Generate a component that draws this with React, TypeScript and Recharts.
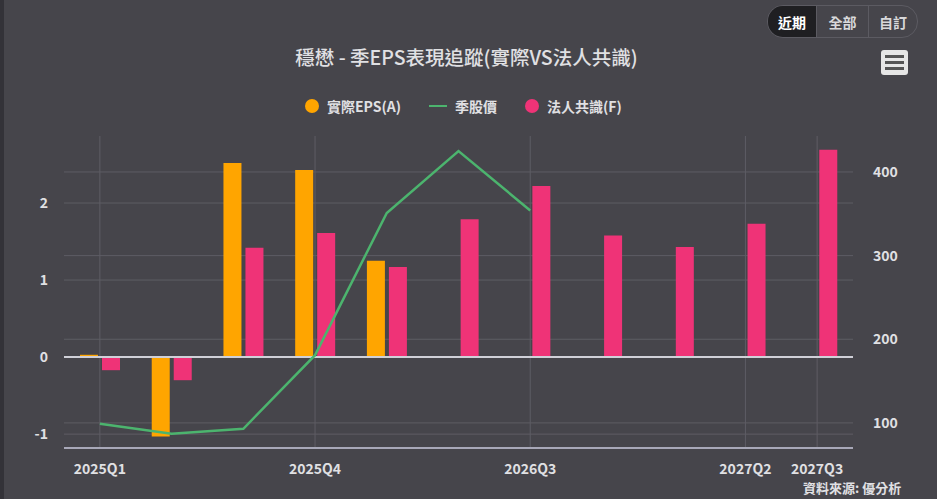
import React from "react";
import {
  ComposedChart,
  Bar,
  Line,
  XAxis,
  YAxis,
  CartesianGrid,
  ReferenceLine,
} from "recharts";

const quarters = [
  "2025Q1", "2025Q2", "2025Q3", "2025Q4",
  "2026Q1", "2026Q2", "2026Q3", "2026Q4",
  "2027Q1", "2027Q2", "2027Q3",
];
const actualEps = [0.03, -1.03, 2.52, 2.43, 1.25, null, null, null, null, null, null];
const consensusEps = [-0.17, -0.3, 1.42, 1.61, 1.17, 1.79, 2.22, 1.58, 1.43, 1.73, 2.69];
const quarterPrice = [99, 87, 93, 181, 351, 425, 354, null, null, null, null];
const xTicks = ["2025Q1", "2025Q4", "2026Q3", "2027Q2", "2027Q3"];
const leftTicks = [-1, 0, 1, 2];
const rightTicks = [100, 200, 300, 400];

const data = quarters.map((q, i) => ({
  q,
  actual: actualEps[i],
  consensus: consensusEps[i],
  price: quarterPrice[i],
}));

const BG = "#46454b";
const TEXT = "#e0e0e3";
const ORANGE = "#ffa500";
const PINK = "#ef3377";
const GREEN = "#4cb46e";
const FONT = '"Noto Sans CJK TC", "Noto Sans", sans-serif';

function Legend() {
  const item = { display: "flex", alignItems: "center", gap: 8 } as const;
  const dot = (c: string) => (
    <span style={{ width: 14, height: 14, borderRadius: "50%", background: c, display: "inline-block" }} />
  );
  return (
    <div
      style={{
        position: "absolute",
        top: 96,
        left: 305,
        display: "flex",
        gap: 28,
        fontSize: 14,
        fontWeight: 700,
        color: TEXT,
      }}
    >
      <div style={item}>{dot(ORANGE)}<span>實際EPS(A)</span></div>
      <div style={item}>
        <span style={{ width: 18, height: 2, background: GREEN, display: "inline-block" }} />
        <span>季股價</span>
      </div>
      <div style={item}>{dot(PINK)}<span>法人共識(F)</span></div>
    </div>
  );
}

function Buttons() {
  const btn = (label: string, active: boolean, extra: React.CSSProperties = {}) => (
    <div
      style={{
        width: 48,
        height: 31,
        display: "flex",
        alignItems: "center",
        justifyContent: "center",
        background: active ? "#1f1f22" : "transparent",
        color: active ? "#ffffff" : "#d8d8da",
        fontWeight: 700,
        fontSize: 14,
        ...extra,
      }}
    >
      {label}
    </div>
  );
  return (
    <div
      style={{
        position: "absolute",
        top: 5,
        left: 767,
        display: "flex",
        border: "1px solid #5c5b62",
        borderRadius: 16,
        overflow: "hidden",
      }}
    >
      {btn("近期", true)}
      {btn("全部", false, { borderLeft: "1px solid #5c5b62", borderRight: "1px solid #5c5b62", width: 51 })}
      {btn("自訂", false)}
    </div>
  );
}

function MenuIcon() {
  return (
    <div
      style={{
        position: "absolute",
        top: 50,
        left: 881,
        width: 27,
        height: 25,
        background: "#e6e6e6",
        borderRadius: 3,
        display: "flex",
        flexDirection: "column",
        justifyContent: "center",
        gap: 3,
        alignItems: "center",
      }}
    >
      {[0, 1, 2].map((i) => (
        <span key={i} style={{ width: 19, height: 3, background: "#555", display: "block" }} />
      ))}
    </div>
  );
}

export default function App() {
  return (
    <div
      style={{
        position: "fixed",
        top: 0,
        left: 0,
        width: 937,
        height: 499,
        background: BG,
        fontFamily: FONT,
        overflow: "hidden",
      }}
    >
      <div style={{ position: "absolute", top: 0, left: 0, width: 4, height: 499, background: "#333238" }} />
      <div
        style={{
          position: "absolute",
          top: 42,
          left: 0,
          width: 933,
          textAlign: "center",
          color: TEXT,
          fontSize: 19.5,
          fontWeight: 500,
        }}
      >
        穩懋 - 季EPS表現追蹤(實際VS法人共識)
      </div>
      <Buttons />
      <MenuIcon />
      <Legend />
      <div style={{ position: "absolute", top: 0, left: 0 }}>
        <ComposedChart
          width={937}
          height={499}
          data={data}
          margin={{ top: 136, right: 24, bottom: 21, left: 8 }}
          barSize={18}
          barGap={4}
        >
          <CartesianGrid yAxisId="left" stroke="#5e5d64" syncWithTicks />
          <CartesianGrid yAxisId="right" stroke="#5e5d64" vertical={false} syncWithTicks />
          <XAxis
            dataKey="q"
            ticks={xTicks}
            interval={0}
            axisLine={{ stroke: "#a8a8b8", strokeWidth: 2 }}
            tickLine={false}
            tick={{ fill: TEXT, fontSize: 14, fontWeight: 700 }}
            tickMargin={10}
            height={30}
          />
          <YAxis
            yAxisId="left"
            domain={[-1.18, 2.87]}
            ticks={leftTicks}
            axisLine={false}
            tickLine={false}
            tick={{ fill: TEXT, fontSize: 14, fontWeight: 700 }}
            width={56}
            tickMargin={10}
          />
          <YAxis
            yAxisId="right"
            orientation="right"
            domain={[70, 443]}
            ticks={rightTicks}
            axisLine={false}
            tickLine={false}
            tick={{ fill: TEXT, fontSize: 14, fontWeight: 700 }}
            width={60}
            tickMargin={14}
          />
          <ReferenceLine yAxisId="left" y={0} stroke="#d0d0d8" strokeWidth={2} />
          <Bar yAxisId="left" dataKey="actual" fill={ORANGE} isAnimationActive={false} />
          <Bar yAxisId="left" dataKey="consensus" fill={PINK} isAnimationActive={false} />
          <Line
            yAxisId="right"
            dataKey="price"
            type="linear"
            stroke={GREEN}
            strokeWidth={2.5}
            dot={false}
            activeDot={false}
            connectNulls={false}
            isAnimationActive={false}
          />
        </ComposedChart>
      </div>
      <div
        style={{
          position: "absolute",
          top: 478,
          left: 803,
          color: TEXT,
          fontSize: 13,
          fontWeight: 700,
        }}
      >
        資料來源: 優分析
      </div>
    </div>
  );
}
